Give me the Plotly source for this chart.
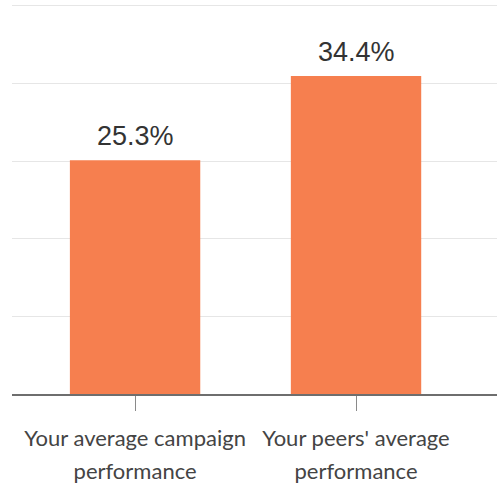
import plotly.graph_objects as go

# Campaign performance vs. peers
categories = [
    ("Your average campaign", "performance"),
    ("Your peers' average", "performance"),
]
values = [25.3, 34.4]
y_ticks = [0, 8.4, 16.8, 25.2, 33.6, 42]

bar_color = "#F67F4F"
positions = list(range(len(categories)))
label_font = dict(family="Lato, sans-serif", size=22, color="#444444")

fig = go.Figure(
    go.Bar(
        x=positions,
        y=values,
        width=0.59,
        marker=dict(color=bar_color, line=dict(width=0)),
        hoverinfo="skip",
    )
)

# value labels above each bar
for i, v in enumerate(values):
    fig.add_annotation(
        x=i, y=v, text=f"{v:.1f}%",
        showarrow=False, yanchor="bottom", yshift=7,
        font=dict(family="Liberation Sans, Arial, sans-serif", size=27, color="#333333"),
    )

# invisible helper trace so the second category axis is drawn
fig.add_trace(go.Scatter(x=positions, y=[0] * len(positions), xaxis="x2",
                         mode="markers", marker=dict(opacity=0), hoverinfo="skip"))

fig.update_layout(
    width=497, height=485,
    margin=dict(l=12, r=0, t=3, b=91),
    paper_bgcolor="white", plot_bgcolor="white",
    showlegend=False,
    xaxis=dict(
        range=[-0.557, 1.638],
        tickvals=positions,
        ticktext=[c[0] for c in categories],
        ticks="outside", ticklen=15, tickwidth=1, tickcolor="#8a8a8a",
        ticklabelstandoff=9,
        showline=True, linecolor="#6e6e6e", linewidth=1.5,
        showgrid=False, zeroline=False,
        tickfont=label_font,
    ),
    xaxis2=dict(
        overlaying="x", matches="x", anchor="y", side="bottom",
        tickvals=positions,
        ticktext=[c[1] for c in categories],
        ticks="outside", ticklen=15, tickcolor="rgba(0,0,0,0)",
        ticklabelstandoff=43,
        showline=False, showgrid=False, zeroline=False,
        tickfont=label_font,
    ),
    yaxis=dict(
        range=[0, 42.3],
        tickvals=y_ticks,
        showticklabels=False,
        showgrid=True, gridcolor="#e6e6e6", gridwidth=1,
        zeroline=False, showline=False,
    ),
)

fig.write_html("out.html")
